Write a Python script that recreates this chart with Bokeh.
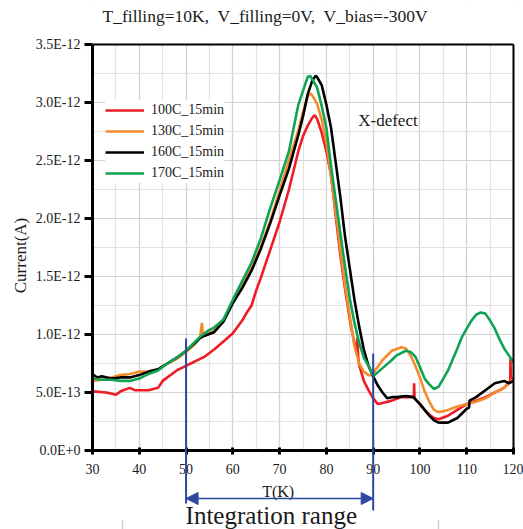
import numpy as np
from bokeh.plotting import figure
from bokeh.models import (Range1d, SingleIntervalTicker, FixedTicker, CustomJSTickFormatter, LinearAxis,
                          Label, Arrow, NormalHead, ColumnDataSource, BoxAnnotation)
from bokeh.embed import file_html
from bokeh.resources import INLINE

# ---------------- data (current in units of 1e-12 A) ----------------
red_T = [30, 33, 35, 36, 38, 39, 42, 44, 45, 48, 51, 53, 54, 56, 58, 60, 62, 63, 64, 65, 66, 68, 70, 72, 74, 75,
         76, 77, 77.5, 78, 79, 80, 81, 82, 83, 84, 85, 86, 86.5, 86.6, 86.8, 87, 88, 89, 90, 91, 92, 94, 96, 98,
         98.7, 98.75, 98.85, 100, 101, 102, 103, 104, 106, 108, 110, 112, 114, 116, 118, 119.3, 119.35, 119.45, 120]
red_I = [0.51, 0.50, 0.48, 0.51, 0.54, 0.52, 0.52, 0.54, 0.60, 0.69, 0.75, 0.79, 0.81, 0.87, 0.94, 1.01, 1.12, 1.19,
         1.25, 1.38, 1.49, 1.73, 1.97, 2.25, 2.58, 2.71, 2.80, 2.87, 2.89, 2.86, 2.74, 2.58, 2.37, 2.02, 1.68, 1.39,
         1.13, 0.92, 0.84, 0.97, 0.80, 0.74, 0.60, 0.52, 0.45, 0.40, 0.41, 0.43, 0.46, 0.46, 0.46, 0.58, 0.45, 0.40,
         0.35, 0.31, 0.28, 0.27, 0.30, 0.35, 0.40, 0.43, 0.46, 0.50, 0.54, 0.60, 0.79, 0.60, 0.63]

orange_T = [30, 32, 34, 36, 38, 40, 42, 44, 46, 48, 50, 52, 53, 53.4, 53.6, 54, 56, 58, 60, 62, 64, 66, 68, 70, 72,
            74, 75, 76, 76.5, 77, 78, 79, 80, 81, 82, 83, 84, 85, 86, 87, 88, 89, 90, 90.5, 91, 92, 94, 96, 97, 98,
            99, 100, 101, 102, 103, 104, 106, 108, 110, 112, 114, 116, 118, 120]
orange_I = [0.60, 0.61, 0.63, 0.65, 0.66, 0.68, 0.68, 0.70, 0.75, 0.79, 0.85, 0.92, 0.98, 1.10, 1.00, 0.99, 1.03,
            1.12, 1.29, 1.43, 1.58, 1.76, 1.98, 2.24, 2.50, 2.76, 2.92, 3.05, 3.08, 3.06, 2.99, 2.85, 2.66, 2.36,
            2.06, 1.73, 1.42, 1.16, 0.90, 0.75, 0.68, 0.65, 0.65, 0.70, 0.72, 0.78, 0.86, 0.89, 0.88, 0.82, 0.73,
            0.63, 0.51, 0.42, 0.35, 0.33, 0.35, 0.38, 0.40, 0.42, 0.45, 0.50, 0.54, 0.62]

black_T = [30, 31, 32, 34, 36, 38, 40, 42, 44, 46, 48, 50, 52, 53, 54, 56, 58, 60, 62, 64, 66, 68, 70, 72, 74, 75,
           76, 77, 77.7, 78, 79, 80, 81, 82, 83, 84, 85, 86, 87, 88, 89, 90, 91, 92, 93, 94, 95, 97, 98.6, 100, 101,
           102, 103, 104, 106, 108, 110, 110.5, 110.6, 112, 114, 116, 118, 119, 120]
black_I = [0.66, 0.63, 0.64, 0.62, 0.63, 0.63, 0.65, 0.68, 0.70, 0.75, 0.80, 0.86, 0.93, 0.97, 0.99, 1.02, 1.11,
           1.27, 1.40, 1.55, 1.74, 1.96, 2.20, 2.43, 2.72, 2.88, 3.07, 3.19, 3.23, 3.22, 3.15, 2.98, 2.78, 2.48,
           2.18, 1.84, 1.57, 1.30, 1.07, 0.87, 0.73, 0.64, 0.56, 0.50, 0.45, 0.46, 0.46, 0.47, 0.46, 0.40, 0.35,
           0.30, 0.26, 0.24, 0.24, 0.28, 0.36, 0.37, 0.43, 0.46, 0.52, 0.58, 0.60, 0.58, 0.60]

green_T = [30, 32, 34, 36, 38, 40, 42, 44, 46, 48, 50, 52, 53, 54.6, 56, 58, 60, 62, 64, 66, 68, 70, 72, 74, 75, 76,
           76.5, 77, 78, 79, 80, 81, 82, 83, 84, 85, 86, 87, 88, 89, 90, 92, 94, 95, 97, 98, 99, 100, 101, 102, 103,
           104, 105, 106, 108, 109, 110, 111, 112, 113, 114, 115, 116, 117, 118, 119, 120]
green_I = [0.62, 0.61, 0.61, 0.60, 0.60, 0.62, 0.66, 0.69, 0.75, 0.80, 0.86, 0.94, 0.98, 1.03, 1.06, 1.13, 1.30,
           1.46, 1.62, 1.83, 2.09, 2.33, 2.58, 2.98, 3.10, 3.22, 3.23, 3.20, 3.13, 2.97, 2.78, 2.45, 2.16, 1.87,
           1.58, 1.31, 1.10, 0.93, 0.80, 0.73, 0.64, 0.71, 0.78, 0.82, 0.86, 0.85, 0.81, 0.72, 0.62, 0.57, 0.53,
           0.55, 0.62, 0.69, 0.88, 0.98, 1.05, 1.12, 1.17, 1.19, 1.18, 1.12, 1.05, 0.96, 0.88, 0.82, 0.76]

series_labels = ["100C_15min", "130C_15min", "160C_15min", "170C_15min"]
series_colors = ["#EE1D25", "#F68B2C", "#000000", "#10A355"]

integ_start, integ_end = 50, 90
title_text = "T_filling=10K,\u00a0 V_filling=0V,\u00a0 V_bias=-300V"

SCALE = 1e-12
FONT = "Liberation Serif"
TXT = "#1a1a1a"
BLUE = "#2B49A0"
X_MIN, X_MAX = 30, 120
Y_MAX = 3.5e-12

W, H = 523, 529
# pixel geometry of the data area inside the full-canvas frame
LEFT_PX, RIGHT_PX = 92, 513
TOP_PX, ZERO_PX = 44, 450
PX_PER_K = (RIGHT_PX - LEFT_PX) / (X_MAX - X_MIN)
PX_PER_UNIT = (ZERO_PX - TOP_PX) / (Y_MAX / SCALE)   # pixels per 1e-12 A


def y_of(px):
    # pixel row -> data value (for annotations outside the data area)
    return (ZERO_PX - px) / PX_PER_UNIT * SCALE


def x_of(px):
    return X_MIN + (px - LEFT_PX) / PX_PER_K


p = figure(width=W, height=H, output_backend="svg", toolbar_location=None,
           x_range=Range1d(x_of(0), x_of(W)), y_range=Range1d(y_of(H), y_of(0)),
           x_axis_location=None, y_axis_location=None,
           min_border_left=0, min_border_right=0, min_border_top=0, min_border_bottom=0)
p.background_fill_color = "white"
p.border_fill_color = "white"
p.outline_line_color = None

yticker = SingleIntervalTicker(interval=0.5e-12, num_minor_ticks=2)
xticker = SingleIntervalTicker(interval=10, num_minor_ticks=2)
no_ticks = FixedTicker(ticks=[])

yax = LinearAxis(ticker=yticker, fixed_location=X_MIN, bounds=(0, Y_MAX),
                 formatter=CustomJSTickFormatter(code="return tick.toExponential(1).replace('e', 'E');"))
p.add_layout(yax, "left")
xax = LinearAxis(ticker=xticker, fixed_location=0, bounds=(X_MIN, X_MAX))
p.add_layout(xax, "below")

for ax in (xax, yax):
    ax.axis_line_width = 3
    ax.axis_line_color = "black"
    ax.major_tick_line_width = 3
    ax.major_tick_line_color = "black"
    ax.minor_tick_line_color = None
    ax.major_label_text_font = FONT
    ax.major_label_text_font_size = "14px"
    ax.major_label_text_color = TXT

yax.major_tick_out = 8
yax.major_tick_in = 0
yax.major_label_standoff = 4
xax.major_tick_out = 4
xax.major_tick_in = 3
xax.major_label_standoff = 9

# top and right borders of the data area
top_ax = LinearAxis(ticker=no_ticks, fixed_location=Y_MAX, bounds=(X_MIN, X_MAX), axis_line_width=2,
                    axis_line_color="black", major_tick_line_color=None, minor_tick_line_color=None)
p.add_layout(top_ax, "above")
right_ax = LinearAxis(ticker=no_ticks, fixed_location=X_MAX, bounds=(0, Y_MAX), axis_line_width=2,
                      axis_line_color="black", major_tick_line_color=None, minor_tick_line_color=None)
p.add_layout(right_ax, "right")

# grid
p.xgrid.ticker = xticker
p.ygrid.ticker = yticker
p.xgrid.bounds = (X_MIN, X_MAX)
p.ygrid.bounds = (0, Y_MAX)
for g in (p.xgrid[0], p.ygrid[0]):
    g.grid_line_color = "#d2d2d2"
    g.grid_line_width = 1.2
    g.minor_grid_line_color = "#e2e2e2"
    g.minor_grid_line_width = 1.2

# white areas outside the data area (hide grid lines there)
for box in (BoxAnnotation(top=0), BoxAnnotation(bottom=Y_MAX),
            BoxAnnotation(right=X_MIN), BoxAnnotation(left=X_MAX)):
    box.fill_color = "white"
    box.fill_alpha = 1.0
    box.line_color = None
    box.level = "underlay"
    p.add_layout(box)

all_T = [red_T, orange_T, black_T, green_T]
all_I = [red_I, orange_I, black_I, green_I]
for T, I, lab, col in zip(all_T, all_I, series_labels, series_colors):
    src = ColumnDataSource(dict(T=T, I=np.array(I) * SCALE))
    p.line("T", "I", source=src, line_color=col, line_width=2.6, legend_label=lab)

lg = p.legend[0]
lg.location = (105, H - 183)
lg.border_line_color = None
lg.background_fill_color = "white"
lg.background_fill_alpha = 1.0
lg.label_text_font = FONT
lg.label_text_font_size = "14px"
lg.label_text_color = TXT
lg.glyph_width = 39
lg.glyph_height = 20
lg.label_height = 20
lg.spacing = 1
lg.padding = 8
lg.label_standoff = 7
lg.margin = 0

p.add_layout(Label(x=x_of(102), y=y_of(15), text=title_text, text_align="left", text_baseline="middle",
                   text_font=FONT, text_font_size="17.5px", text_color=TXT))
p.add_layout(Label(x=x_of(20), y=y_of(255), text="Current(A)", angle=np.pi / 2, text_align="center",
                   text_baseline="middle", text_font=FONT, text_font_size="17px", text_color=TXT))
p.add_layout(Label(x=86.8, y=y_of(120), text="X-defect", text_align="left", text_baseline="middle",
                   text_font=FONT, text_font_size="17px", text_color=TXT))
p.add_layout(Label(x=69.7, y=y_of(491), text="T(K)", text_align="center", text_baseline="middle",
                   text_font=FONT, text_font_size="16px", text_color=TXT))
p.add_layout(Label(x=integ_start - 0.1, y=y_of(515), text="Integration range", text_align="left",
                   text_baseline="middle", text_font=FONT, text_font_size="25px", text_color=TXT))

# integration range markers
p.add_layout(Arrow(x_start=integ_start, y_start=y_of(338), x_end=integ_start, y_end=y_of(503),
                   start=None, end=None, line_color=BLUE, line_width=2))
p.add_layout(Arrow(x_start=integ_end, y_start=y_of(353), x_end=integ_end, y_end=y_of(510),
                   start=None, end=None, line_color=BLUE, line_width=2))
p.add_layout(Arrow(x_start=integ_start, y_start=y_of(498), x_end=integ_end, y_end=y_of(498),
                   line_color=BLUE, line_width=1.5,
                   start=NormalHead(size=12, fill_color=BLUE, line_color=BLUE),
                   end=NormalHead(size=12, fill_color=BLUE, line_color=BLUE)))

# faint grey marks at the bottom edge of the original picture
for xm in (x_of(122), x_of(438)):
    p.add_layout(Arrow(x_start=xm, y_start=y_of(520), x_end=xm, y_end=y_of(529),
                       start=None, end=None, line_color="#d0d0d0", line_width=1.5))

with open("out.html", "w") as f:
    f.write(file_html(p, INLINE))
